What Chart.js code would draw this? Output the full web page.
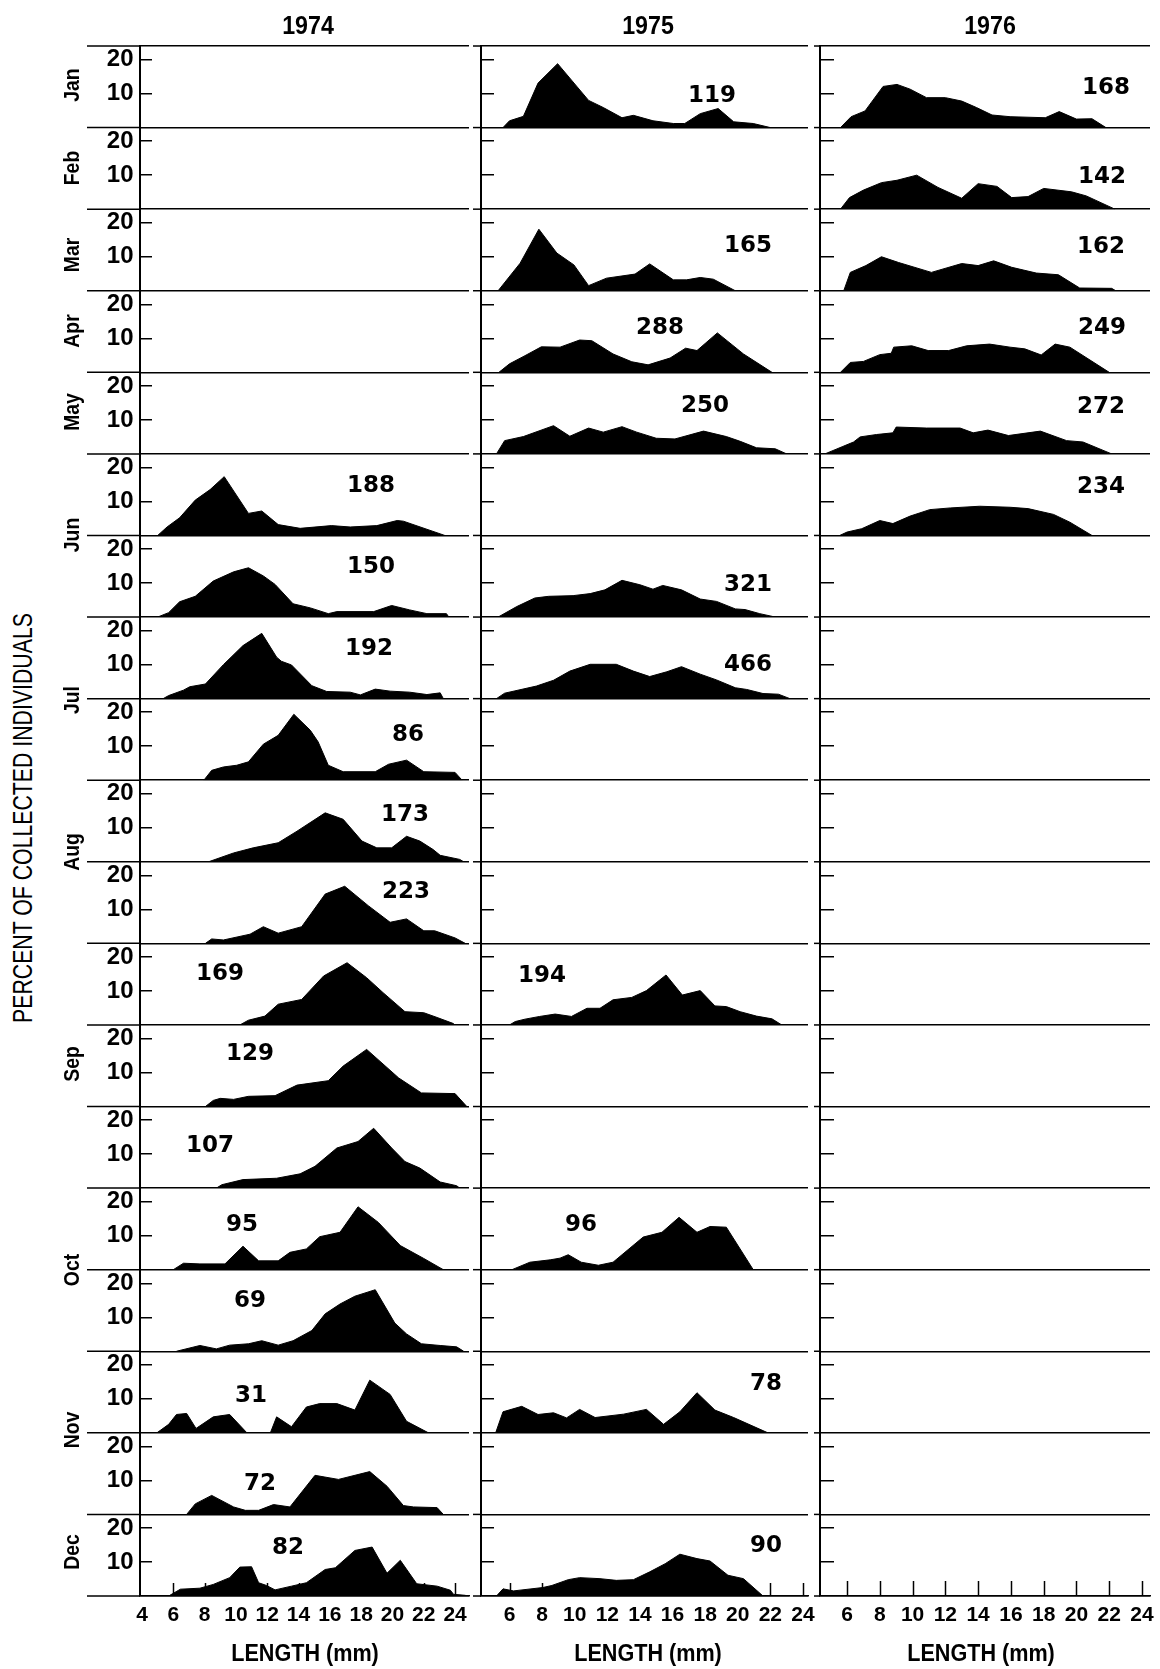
<!DOCTYPE html>
<html>
<head>
<meta charset="utf-8">
<title>Length frequencies 1974-1976</title>
<script src="https://cdn.jsdelivr.net/npm/chart.js@4.4.1/dist/chart.umd.min.js"></script>
<style>
  html, body { margin: 0; padding: 0; background: #fff; overflow: hidden; }
  #page { position: relative; width: 1160px; height: 1669px; overflow: hidden; }
  canvas { position: absolute; }
  .txt { position: absolute; white-space: nowrap; line-height: 1; color: #000;
         font-family: 'Liberation Sans', Arial, sans-serif; }
  .year { font-size: 25px; font-weight: bold; }
  .month { font-size: 22px; font-weight: bold; }
  .ytitle { font-size: 28px; }
  .xtitle { font-size: 24px; font-weight: bold; }
  .count { font-family: 'DejaVu Sans', 'Liberation Sans', sans-serif; font-size: 23px; font-weight: bold; }
</style>
</head>
<body>
<div id="page"></div>
<script>
const years = ['1974', '1975', '1976'];
const monthNames = ['Jan', 'Feb', 'Mar', 'Apr', 'May', 'Jun', 'Jul', 'Aug', 'Sep', 'Oct', 'Nov', 'Dec'];
const lengthTicks = [4, 6, 8, 10, 12, 14, 16, 18, 20, 22, 24];
const percentTicks = [10, 20];
const percentMax = 24;

// [length mm, percent] read off the polygons, one array per sample
// 1974
const d74r06 = [[5.0,0],[5.6,2.5],[6.4,5.2],[7.4,10.4],[8.35,13.5],[9.25,17.3],[10.8,6.5],[11.65,7.2],[12.7,3.2],[14.1,2.1],[16.1,2.9],[17.3,2.5],[19.0,2.9],[20.3,4.4],[20.7,4.2],[23.35,0]];
const d74r07 = [[5.0,0],[5.7,1.3],[6.4,4.5],[7.4,6.1],[8.55,10.6],[9.85,13.3],[10.8,14.5],[11.75,12.1],[12.5,9.6],[13.65,3.9],[14.75,2.7],[15.9,1.0],[16.45,1.6],[18.8,1.6],[19.95,3.4],[21.1,2.1],[22.2,1.0],[23.45,1.0],[23.6,0]];
const d74r08 = [[5.35,0],[5.7,0.9],[6.65,2.5],[7.05,3.5],[8.05,4.3],[9.2,10.0],[10.45,15.6],[11.65,19.2],[12.6,12.2],[12.9,11.0],[13.55,9.9],[14.85,3.8],[15.8,2.1],[17.3,1.9],[17.95,1.1],[18.9,2.8],[19.85,2.2],[21.1,1.9],[22.2,1.2],[23.05,1.7],[23.25,0]];
const d74r09 = [[7.95,0],[8.45,2.9],[9.2,3.9],[10.05,4.4],[10.8,5.4],[11.75,10.6],[12.7,13.2],[13.7,19.4],[14.75,14.7],[15.25,11.3],[15.9,4.4],[16.85,2.5],[18.9,2.5],[19.75,4.7],[20.9,5.9],[22.0,2.5],[24.0,2.3],[24.45,0]];
const d74r10 = [[8.25,0],[9.85,2.6],[11.1,4.1],[12.7,5.6],[13.9,9.0],[15.7,14.4],[16.85,12.5],[18.05,6.1],[19.0,4.1],[19.95,4.1],[20.9,7.5],[21.75,6.1],[22.6,3.6],[23.05,1.9],[24.3,0.7],[24.55,0]];
const d74r11 = [[8.05,0],[8.45,1.3],[9.2,1.0],[10.9,2.7],[11.75,4.9],[12.7,3.0],[14.2,4.9],[15.7,14.5],[16.95,16.8],[18.45,11.1],[19.85,6.2],[20.9,7.2],[22.0,3.7],[22.7,3.7],[24.0,1.6],[24.65,0]];
const d74r12 = [[10.25,0],[10.8,1.4],[11.85,2.6],[12.7,6.1],[14.2,7.5],[15.6,14.4],[17.1,18.3],[18.35,13.9],[19.4,9.5],[20.8,3.9],[22.0,3.6],[22.85,2.2],[23.9,0.4],[23.95,0]];
const d74r13 = [[8.05,0],[8.55,1.8],[9.0,2.4],[9.85,2.1],[10.8,3.0],[12.5,3.2],[13.9,6.3],[15.9,7.6],[16.85,11.9],[18.35,16.8],[20.4,8.4],[21.85,4.0],[24.0,3.8],[24.75,0]];
const d74r14 = [[8.75,0],[9.1,1.0],[10.45,2.5],[12.6,2.9],[14.1,4.2],[15.05,6.4],[16.45,11.8],[17.8,13.7],[18.8,17.6],[19.95,11.8],[20.8,7.8],[21.75,5.9],[23.05,1.8],[24.1,0.7],[24.3,0]];
const d74r15 = [[6.0,0],[6.65,1.9],[7.7,1.7],[9.3,1.7],[10.45,6.9],[11.45,2.6],[12.7,2.6],[13.45,5.1],[14.5,6.1],[15.35,9.7],[16.65,11.0],[17.8,18.5],[19.1,13.9],[20.5,7.1],[22.0,3.3],[23.25,0]];
const d74r16 = [[6.2,0],[7.7,1.7],[8.75,0.7],[9.6,1.8],[10.8,2.2],[11.65,3.1],[12.7,1.8],[13.65,3.1],[14.85,6.1],[15.7,11.0],[16.65,13.9],[17.6,16.2],[18.9,18.1],[20.15,8.3],[20.9,5.1],[21.85,2.2],[23.05,1.7],[24.1,1.3],[24.55,0]];
const d74r17 = [[4.95,0],[5.7,2.5],[6.2,5.4],[6.85,5.7],[7.45,1.3],[8.55,4.7],[9.6,5.4],[10.7,0],[12.2,0],[12.6,4.7],[13.55,1.8],[14.5,7.6],[15.35,8.6],[16.45,8.6],[17.6,6.7],[18.55,15.5],[19.85,11.3],[20.9,3.4],[22.3,0]];
const d74r18 = [[6.85,0],[7.4,3.1],[8.45,5.6],[9.85,2.2],[10.6,1.2],[11.45,1.2],[12.4,2.9],[13.45,2.2],[15.05,11.5],[16.55,10.3],[18.55,12.6],[19.65,8.3],[20.7,2.6],[21.35,2.2],[22.85,2.0],[23.25,0]];
const d74r19 = [[5.7,0],[6.45,2.0],[7.7,2.3],[8.55,3.4],[9.6,5.4],[10.25,8.5],[11.0,8.6],[11.45,3.9],[11.95,3.1],[12.5,1.8],[13.55,2.9],[14.5,3.9],[15.7,7.8],[16.35,8.3],[17.6,13.4],[18.7,14.4],[19.65,6.7],[20.5,10.5],[21.55,3.6],[22.85,2.9],[23.7,1.7],[23.9,0.5],[24.65,0.2],[24.75,0]];
// 1975
const d75r01 = [[5.6,0],[6.0,2.0],[6.85,3.3],[7.75,13.1],[8.95,18.8],[10.85,8.0],[11.75,5.9],[12.9,2.9],[13.6,3.6],[14.8,2.0],[16.05,1.2],[16.75,1.2],[17.7,4.1],[18.8,5.6],[19.75,1.7],[20.95,1.2],[22.0,0]];
const d75r03 = [[5.3,0],[6.65,8.1],[7.8,18.1],[8.9,11.1],[9.95,7.6],[10.85,1.5],[11.95,3.7],[13.7,4.9],[14.6,7.9],[16.05,3.2],[16.85,3.2],[17.7,3.9],[18.5,3.4],[19.85,0]];
const d75r04 = [[5.35,0],[6.0,2.5],[6.95,4.9],[7.95,7.5],[9.1,7.4],[10.3,9.5],[11.05,9.3],[12.35,5.4],[13.5,3.1],[14.5,2.2],[15.85,4.2],[16.8,7.1],[17.5,6.4],[18.75,11.6],[20.35,5.4],[22.1,0]];
const d75r05 = [[5.2,0],[5.7,3.9],[6.85,5.1],[8.7,8.3],[9.7,5.2],[10.85,7.6],[11.75,6.4],[12.9,8.0],[13.8,6.4],[15.0,4.6],[16.15,4.4],[17.9,6.7],[19.3,5.1],[20.15,3.7],[21.15,1.8],[22.3,1.5],[23.0,0]];
const d75r07 = [[5.3,0],[6.45,3.1],[7.55,5.6],[8.4,6.1],[9.9,6.3],[10.95,6.9],[11.85,8.0],[12.9,10.8],[14.0,9.5],[14.8,8.2],[15.4,9.3],[16.55,8.0],[17.7,5.3],[18.7,4.6],[19.85,2.4],[20.45,2.2],[21.35,1.0],[22.3,0]];
const d75r08 = [[5.2,0],[5.7,1.6],[7.65,3.7],[8.7,5.4],[9.7,8.1],[10.95,10.1],[12.55,10.1],[13.6,8.1],[14.6,6.5],[15.65,7.9],[16.55,9.4],[17.7,7.2],[18.7,5.5],[19.85,3.2],[20.55,2.7],[21.55,1.5],[22.5,1.3],[23.2,0]];
const d75r12 = [[6.0,0],[6.35,1.0],[6.95,1.7],[7.85,2.5],[8.8,3.2],[9.8,2.5],[10.75,4.9],[11.55,4.9],[12.35,7.4],[13.5,8.1],[14.4,10.1],[15.6,14.7],[16.6,8.8],[17.7,10.1],[18.6,5.6],[19.3,5.4],[20.15,3.9],[21.15,2.6],[22.1,1.8],[22.7,0]];
const d75r15 = [[6.15,0],[7.25,2.2],[8.5,2.9],[9.1,3.4],[9.6,4.4],[10.4,2.2],[11.45,1.3],[12.35,2.2],[14.2,9.6],[15.35,11.0],[16.4,15.4],[17.5,11.0],[18.3,12.7],[19.3,12.5],[20.95,0]];
const d75r17 = [[5.15,0],[5.6,6.2],[6.75,7.8],[7.75,5.4],[8.7,5.9],[9.5,4.4],[10.3,6.9],[11.25,4.5],[13.0,5.5],[14.4,6.9],[15.45,2.5],[16.45,6.2],[17.5,11.8],[18.6,6.7],[19.75,4.5],[21.85,0]];
const d75r19 = [[5.2,0],[5.6,2.1],[6.25,1.5],[8.05,2.5],[8.6,3.1],[9.6,4.8],[10.3,5.4],[11.55,5.1],[12.55,4.6],[13.6,4.8],[14.6,7.1],[15.55,9.5],[16.45,12.3],[17.5,11.0],[18.3,10.3],[19.4,6.1],[20.35,5.1],[21.55,0]];
// 1976
const d76r01 = [[5.6,0],[6.25,3.2],[7.1,4.9],[8.2,12.1],[9.05,12.7],[9.85,11.3],[10.85,8.8],[12.0,8.8],[13.0,7.8],[13.9,5.9],[14.85,3.7],[15.95,3.2],[18.1,2.9],[18.95,4.7],[20.0,2.5],[20.95,2.6],[21.8,0]];
const d76r02 = [[5.6,0],[6.15,3.4],[7.0,5.6],[8.1,7.8],[9.05,8.5],[10.25,10.0],[11.55,6.4],[13.0,3.2],[14.0,7.5],[15.15,6.7],[16.05,3.4],[17.05,3.7],[18.0,6.1],[19.7,5.1],[20.6,3.9],[22.35,0]];
const d76r03 = [[5.8,0],[6.2,5.4],[7.15,7.4],[8.1,10.0],[9.15,8.3],[11.15,5.4],[13.0,8.0],[14.0,7.4],[14.95,8.8],[16.05,6.9],[17.55,5.2],[18.9,4.7],[20.2,0.8],[22.15,0.7],[22.4,0]];
const d76r04 = [[5.6,0],[6.2,2.9],[7.0,3.2],[8.0,5.2],[8.7,5.6],[8.85,7.4],[9.95,7.8],[10.95,6.4],[12.2,6.4],[13.3,7.8],[14.7,8.3],[15.95,7.4],[16.85,6.9],[17.85,5.1],[18.7,8.3],[19.6,7.4],[22.0,0]];
const d76r05 = [[4.65,0],[5.7,2.1],[6.4,3.5],[6.8,5.0],[7.8,5.7],[8.8,6.2],[9.0,7.9],[10.85,7.6],[12.9,7.6],[13.7,6.2],[14.6,7.0],[15.85,5.4],[17.8,6.7],[19.4,3.9],[20.4,3.5],[22.15,0]];
const d76r06 = [[5.55,0],[6.0,1.0],[6.9,2.0],[8.0,4.4],[8.8,3.5],[9.85,5.7],[11.05,7.6],[12.3,8.1],[14.1,8.6],[15.95,8.3],[17.05,7.9],[18.6,6.2],[19.6,3.9],[20.95,0]];

// 19 sample rows per year column (null = no sample)
const _ = null;
const series1974 = [_, _, _, _, _, d74r06, d74r07, d74r08, d74r09, d74r10, d74r11, d74r12, d74r13, d74r14, d74r15, d74r16, d74r17, d74r18, d74r19];
const series1975 = [d75r01, _, d75r03, d75r04, d75r05, _, d75r07, d75r08, _, _, _, d75r12, _, _, d75r15, _, d75r17, _, d75r19];
const series1976 = [d76r01, d76r02, d76r03, d76r04, d76r05, d76r06, _, _, _, _, _, _, _, _, _, _, _, _, _];
const n1974 = [_, _, _, _, _, 188, 150, 192, 86, 173, 223, 169, 129, 107, 95, 69, 31, 72, 82];
const n1975 = [119, _, 165, 288, 250, _, 321, 466, _, _, _, 194, _, _, 96, _, 78, _, 90];
const n1976 = [168, 142, 162, 249, 272, 234, _, _, _, _, _, _, _, _, _, _, _, _, _];

// ---- layout ----
const ROWS = 19;
const PLOT_TOP = 46, PLOT_H = 1550, PAD_T = 40, PAD_R = 30, X_H = 70;
const columns = [
  { left: 140, right: 469, min: 3.87, max: 24.89, axisW: 60, ext: 53, yTick: 12, xTick: 13, yLabels: true, firstTick: 4 },
  { left: 481, right: 808, min: 4.25, max: 24.31, axisW: 12, ext: 8, yTick: 13, xTick: 13, yLabels: false, firstTick: 6 },
  { left: 820, right: 1150, min: 4.35, max: 24.49, axisW: 12, ext: 6, yTick: 14, xTick: 15, yLabels: false, firstTick: 6 }
];
const yearX = [308, 648, 990];
const xTitleX = [305, 648, 981];
const monthY = [85, 168, 255, 331, 412, 535, 700, 852, 1064, 1270, 1430, 1552];
const countXY = [
  [_, _, _, _, _, [371,484], [371,565], [369,647], [408,733], [405,813], [406,890], [220,972], [250,1052], [210,1144], [242,1223], [250,1299], [251,1394], [260,1482], [288,1546]],
  [[712,94], _, [748,244], [660,326], [705,404], _, [748,583], [748,663], _, _, _, [542,974], _, _, [581,1223], _, [766,1382], _, [766,1544]],
  [[1106,86], [1102,175], [1101,245], [1102,326], [1101,405], [1101,485]]
];

const page = document.getElementById('page');
const tickFont = "'Liberation Sans Narrow', 'Liberation Sans', Arial, sans-serif";

function addText(text, cls, x, y, rot, sx) {
  const el = document.createElement('div');
  el.className = 'txt ' + cls;
  el.textContent = text;
  el.style.left = x + 'px';
  el.style.top = y + 'px';
  el.style.transform = 'translate(-50%,-50%)' + (rot ? ' rotate(-90deg)' : '') + (sx ? ' scaleX(' + sx + ')' : '');
  page.appendChild(el);
}

// row rules running out left of each axis, plus inward length ticks
const rowRules = {
  id: 'rowRules',
  afterDraw(chart, args, opts) {
    const { ctx, chartArea } = chart;
    ctx.save();
    ctx.strokeStyle = '#000';
    ctx.lineWidth = 1.5;
    Object.values(chart.scales).forEach(s => {
      if (s.axis !== 'y') return;
      const ys = [s.getPixelForValue(0)];
      if (s.id === 'y0') ys.push(s.getPixelForValue(percentMax));
      ys.forEach(py => {
        ctx.beginPath();
        ctx.moveTo(chartArea.left - opts.ext, py);
        ctx.lineTo(chartArea.left, py);
        ctx.stroke();
      });
    });
    const xs = chart.scales.x;
    xs.ticks.forEach(t => {
      if (t.value <= 4) return;
      const px = Math.round(xs.getPixelForValue(t.value)) + 0.5;
      ctx.beginPath();
      ctx.moveTo(px, chartArea.bottom);
      ctx.lineTo(px, chartArea.bottom - opts.xTick);
      ctx.stroke();
    });
    ctx.restore();
  }
};

function buildColumn(ci) {
  const col = columns[ci];
  const seriesList = [series1974, series1975, series1976][ci];
  const w = col.axisW + (col.right - col.left) + PAD_R;
  const h = PAD_T + PLOT_H + X_H;
  const canvas = document.createElement('canvas');
  canvas.width = w;
  canvas.height = h;
  canvas.style.width = w + 'px';
  canvas.style.height = h + 'px';
  canvas.style.left = (col.left - col.axisW) + 'px';
  canvas.style.top = (PLOT_TOP - PAD_T) + 'px';
  page.appendChild(canvas);

  const scales = {
    x: {
      type: 'linear', position: 'bottom', min: col.min, max: col.max,
      afterBuildTicks: s => { s.ticks = lengthTicks.filter(v => v >= col.firstTick).map(v => ({ value: v })); },
      ticks: { autoSkip: false, maxRotation: 0, minRotation: 0, color: '#000', padding: 7,
               font: { family: tickFont, size: 21, weight: 'bold' } },
      grid: { display: false, drawTicks: false },
      border: { display: true, color: '#000', width: 1.5 },
      afterFit: s => { s.height = X_H; }
    }
  };
  const datasets = [];
  for (let r = 0; r < ROWS; r++) {
    const id = 'y' + r;
    const tickVals = r === 0 ? [0, ...percentTicks, percentMax] : [0, ...percentTicks];
    scales[id] = {
      type: 'linear', position: 'left', stack: 'col', stackWeight: 1, weight: ROWS - r,
      min: 0, max: percentMax,
      afterBuildTicks: s => { s.ticks = tickVals.map(v => ({ value: v })); },
      ticks: { display: col.yLabels, autoSkip: false, color: '#000', padding: col.yTick + 6.5,
               font: { family: tickFont, size: 24, weight: 'bold' },
               callback: v => percentTicks.includes(v) ? String(v) : '' },
      grid: {
        drawOnChartArea: true, drawTicks: true, tickLength: -col.yTick, lineWidth: 1.5, tickWidth: 1.5,
        color: c => (c.tick && (c.tick.value === 0 || c.tick.value === percentMax)) ? '#000' : 'rgba(0,0,0,0)',
        tickColor: c => (c.tick && percentTicks.includes(c.tick.value)) ? '#000' : 'rgba(0,0,0,0)'
      },
      border: { display: true, color: '#000', width: 2 },
      afterFit: s => { s.width = col.axisW; }
    };
    const pts = seriesList[r];
    if (pts) {
      datasets.push({
        data: pts.map(([x, y]) => ({ x, y })),
        xAxisID: 'x', yAxisID: id,
        fill: 'origin', backgroundColor: '#000', borderColor: '#000', borderWidth: 1,
        pointRadius: 0, tension: 0
      });
    }
  }

  new Chart(canvas, {
    type: 'line',
    data: { datasets },
    options: {
      responsive: false, animation: false, devicePixelRatio: 1, events: [],
      layout: { padding: { top: PAD_T, right: PAD_R, left: 0, bottom: 0 } },
      scales,
      plugins: { legend: { display: false }, tooltip: { enabled: false },
                 rowRules: { ext: col.ext, xTick: col.xTick } }
    },
    plugins: [rowRules]
  });
}

[0, 1, 2].forEach(buildColumn);

// text
years.forEach((y, i) => addText(y, 'year', yearX[i], 25, false, 0.93));
xTitleX.forEach(x => addText('LENGTH (mm)', 'xtitle', x, 1653, false, 0.9));
monthNames.forEach((m, i) => addText(m, 'month', 72, monthY[i], true, 0.88));
addText('PERCENT OF COLLECTED INDIVIDUALS', 'ytitle', 23, 818, true, 0.76);
[n1974, n1975, n1976].forEach((ns, ci) => {
  ns.forEach((n, r) => {
    if (n == null) return;
    const p = countXY[ci][r];
    addText(String(n), 'count', p[0], p[1]);
  });
});
</script>
</body>
</html>
